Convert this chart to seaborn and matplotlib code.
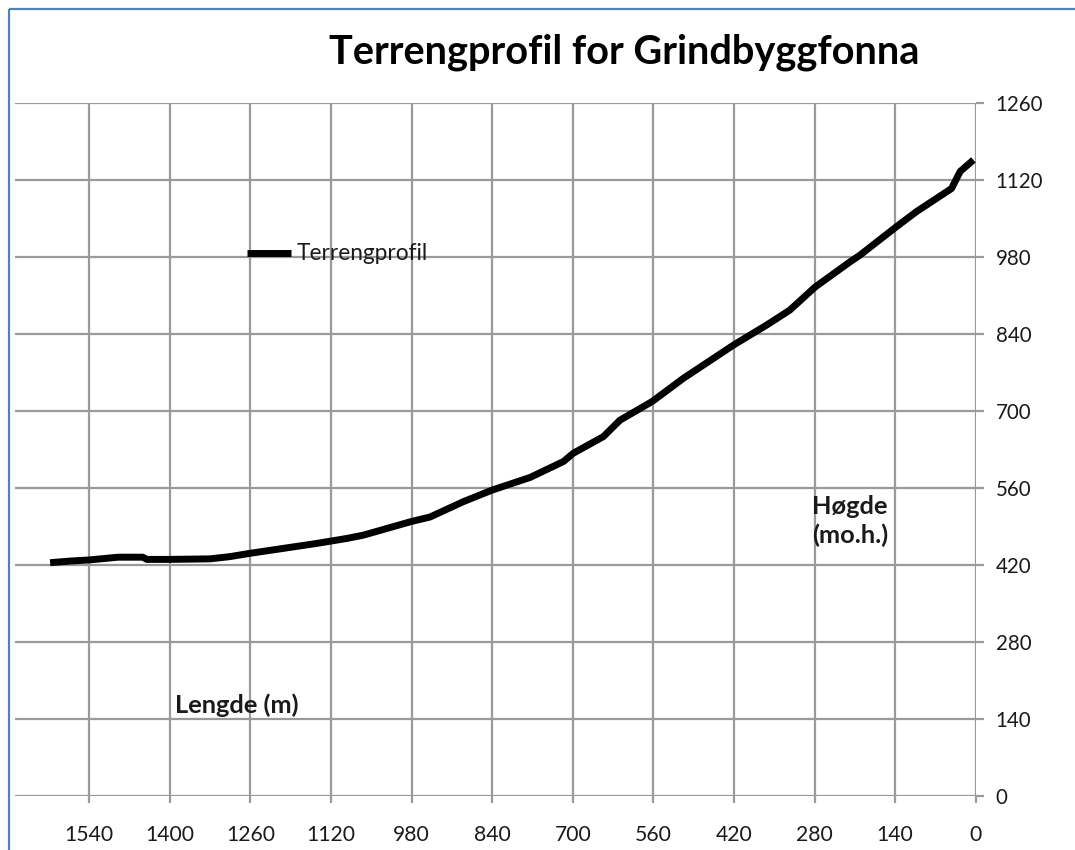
import matplotlib
matplotlib.use("Agg")
import matplotlib.pyplot as plt
import seaborn as sns
import numpy as np
from matplotlib.lines import Line2D

# ---- data ----
lengde = [1608, 1573, 1540, 1490, 1447, 1440, 1400, 1330, 1296, 1261, 1203, 1145,
          1093, 1064, 980, 948, 890, 840, 774, 716, 699, 647, 618, 562, 508, 420,
          363, 323, 279, 218, 201, 141, 103, 42, 27, 4]
hoegde = [424, 427, 429, 434, 434, 430, 430, 431, 435, 441, 450, 459,
          468, 474, 499, 507, 535, 556, 579, 608, 623, 653, 683, 717, 759, 820,
          856, 883, 925, 971, 983, 1032, 1062, 1104, 1135, 1156]
x_ticks = list(range(0, 1541, 140))
y_ticks = list(range(0, 1261, 140))
title = "Terrengprofil for Grindbyggfonna"
series_name = "Terrengprofil"
x_label = "Lengde (m)"
y_label = "Høgde\n(mo.h.)"

sns.set_theme(style="white")
plt.rcParams["font.family"] = ["Lato", "DejaVu Sans"]
plt.rcParams["lines.solid_capstyle"] = "butt"

W, H = 1075, 850
fig = plt.figure(figsize=(W / 100, H / 100), dpi=100)
fig.patch.set_facecolor("white")

def fx(px):
    return px / W

def fy(py):
    return 1 - py / H

ax = fig.add_axes([fx(15), fy(796), fx(975.7) - fx(15), fy(102.7) - fy(796)])
ax.set_facecolor("white")

sns.lineplot(x=lengde, y=hoegde, ax=ax, color="black", linewidth=5,
             label=series_name, estimator=None, sort=False)

ax.set_xlim(1669, 0)
ax.set_ylim(0, 1260)
ax.set_xticks(x_ticks)
ax.set_yticks(y_ticks)
ax.set_xticklabels([str(v) for v in x_ticks])
ax.set_yticklabels([str(v) for v in y_ticks])
ax.set_xlabel("")
ax.set_ylabel("")

grid_c = "#9a9a9a"
ax.grid(True, color=grid_c, linewidth=1.6)
ax.set_axisbelow(True)
for s in ax.spines.values():
    s.set_visible(False)

ax.yaxis.tick_right()
ax.tick_params(axis="y", which="both", right=True, left=False, length=5.5,
               width=1.6, color=grid_c, pad=9, labelsize=14.8, labelcolor="#1a1a1a")
ax.tick_params(axis="x", which="both", bottom=True, top=False, length=5,
               width=1.6, color=grid_c, pad=16, labelsize=15.2, labelcolor="#1a1a1a")

# legend
leg = ax.legend(loc="center left", bbox_to_anchor=(fx(247), fy(254)),
                bbox_transform=fig.transFigure, frameon=False, borderpad=0,
                borderaxespad=0, handlelength=1.95, handletextpad=0.22,
                fontsize=16.3)
for t in leg.get_texts():
    t.set_color("#1a1a1a")

# title & axis labels (placed like the Excel chart)
fig.text(fx(624), fy(52), title, ha="center", va="center", fontsize=28.6,
         fontweight="bold", color="black")
fig.text(fx(175), fy(705), x_label, ha="left", va="center", fontsize=18.3,
         fontweight="bold", color="#1a1a1a")
fig.text(fx(812), fy(521), y_label, ha="left", va="center", fontsize=18.3,
         fontweight="bold", color="#1a1a1a", linespacing=1.3)

# chart-area border (left & top visible in the cropped reference)
bc = "#4f81bd"
fig.add_artist(Line2D([fx(9), fx(9)], [fy(9), 0], color=bc, linewidth=1.6))
fig.add_artist(Line2D([fx(9), 1], [fy(9), fy(9)], color=bc, linewidth=1.6))

fig.savefig("out.png", dpi=100)
